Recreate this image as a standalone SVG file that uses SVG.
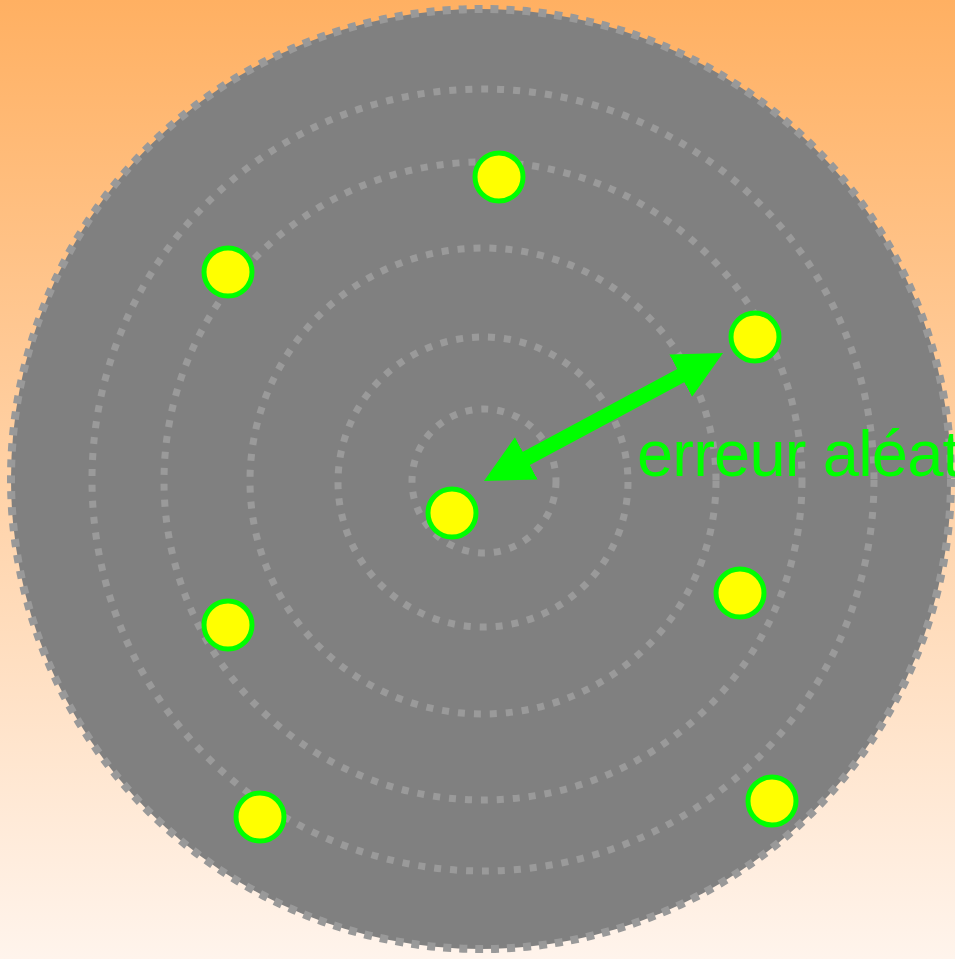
<svg xmlns="http://www.w3.org/2000/svg" width="955" height="959" viewBox="0 0 955 959">
  <defs>
    <linearGradient id="bg" x1="0" y1="0" x2="0" y2="1">
      <stop offset="0" stop-color="#ffb062"/>
      <stop offset="1" stop-color="#fff4ec"/>
    </linearGradient>
    <marker id="head" markerUnits="userSpaceOnUse" markerWidth="48" markerHeight="48" viewBox="0 0 48 48" refX="28" refY="24" orient="auto-start-reverse">
      <path d="M0,0 L48,24 L0,48 z" fill="#00ff00"/>
    </marker>
  </defs>
  <style>
    .ring { fill: none; stroke: #9a9a9a; stroke-width: 7; stroke-dasharray: 7 9; }
    .outer { fill: #808080; stroke: #999999; stroke-width: 8; stroke-dasharray: 8 8; }
    .dot { fill: #ffff00; stroke: #00ff00; stroke-width: 5; }
    .label { font-family: "Liberation Sans", Arial, sans-serif; font-size: 65px; letter-spacing: -0.8px; fill: #00ff00; }
  </style>
  <rect x="0" y="0" width="955" height="959" fill="url(#bg)"/>
  <g id="target">
    <circle class="outer" cx="481" cy="479" r="470"/>
    <circle class="ring" cx="483" cy="480" r="391"/>
    <circle class="ring" cx="483" cy="481" r="319"/>
    <circle class="ring" cx="483" cy="481" r="233"/>
    <circle class="ring" cx="483" cy="482" r="145"/>
    <circle class="ring" cx="484" cy="481" r="72"/>
  </g>
  <g id="connectors">
    <line x1="501.6" y1="471.6" x2="705.4" y2="362.4" stroke="#00ff00" stroke-width="15" marker-start="url(#head)" marker-end="url(#head)"/>
  </g>
  <g id="dot-center"><circle class="dot" cx="452" cy="513" r="24"/></g>
  <g id="dot-1"><circle class="dot" cx="499" cy="177" r="24"/></g>
  <g id="dot-2"><circle class="dot" cx="228" cy="272" r="24"/></g>
  <g id="dot-3"><circle class="dot" cx="755" cy="337" r="24"/></g>
  <g id="dot-4"><circle class="dot" cx="740" cy="593" r="24"/></g>
  <g id="dot-5"><circle class="dot" cx="228" cy="625" r="24"/></g>
  <g id="dot-6"><circle class="dot" cx="260" cy="817" r="24"/></g>
  <g id="dot-7"><circle class="dot" cx="772" cy="801" r="24"/></g>
  <g id="label">
    <text class="label" x="637" y="476">erreur aléatoire</text>
  </g>
</svg>
